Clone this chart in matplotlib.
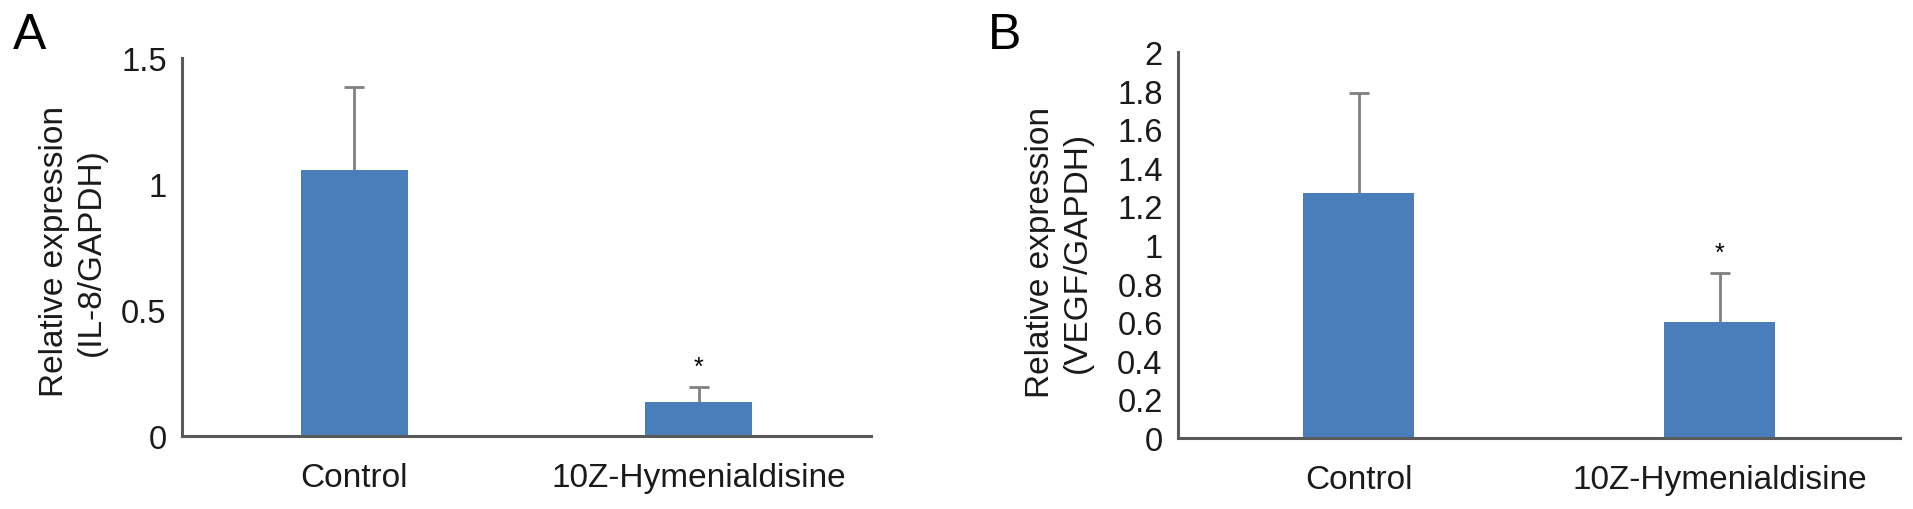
import numpy as np
import matplotlib
matplotlib.use('Agg')
import matplotlib.pyplot as plt

plt.rcParams['font.family'] = ['Liberation Sans', 'DejaVu Sans']

# Data
groups = ['Control', '10Z-Hymenialdisine']

il8_mean = [1.055, 0.135]
il8_err = [0.33, 0.06]

vegf_mean = [1.27, 0.60]
vegf_err = [0.52, 0.255]

il8_ticks = [0, 0.5, 1, 1.5]
il8_ticklabels = ['0', '0.5', '1', '1.5']
vegf_ticks = [0, 0.2, 0.4, 0.6, 0.8, 1.0, 1.2, 1.4, 1.6, 1.8, 2.0]
vegf_ticklabels = ['0', '0.2', '0.4', '0.6', '0.8', '1', '1.2', '1.4', '1.6', '1.8', '2']

bar_color = '#4A7EBB'
axis_color = '#595959'
err_color = '#808080'

fig = plt.figure(figsize=(19.13, 5.10), dpi=100)
axA = fig.add_axes([0.0951, 0.1431, 0.3602, 0.7412])
axB = fig.add_axes([0.6158, 0.1392, 0.3774, 0.7569])


def draw_panel(ax, means, errs, ticks, ticklabels, ymax, ylabel, label_x, label_y):
    x = np.arange(len(groups))
    means = np.array(means)
    errs = np.array(errs)
    ax.bar(x, means, width=0.31, color=bar_color, zorder=2)
    # upper error only, cap only on top
    ax.errorbar(x, means, yerr=[np.zeros(len(errs)), errs], fmt='none',
                ecolor=err_color, elinewidth=2, capsize=0, zorder=3)
    ax.plot(x, means + errs, linestyle='none', marker='_', markersize=15,
            markeredgewidth=2, color=err_color, zorder=3)
    # significance star over the treated group
    ax.annotate('*', xy=(x[1], means[1] + errs[1]), xytext=(0, 6),
                textcoords='offset points', ha='center', va='bottom', fontsize=18)
    ax.set_xlim(-0.5, 1.5)
    ax.set_ylim(0, ymax)
    ax.set_yticks(ticks)
    ax.set_yticklabels(ticklabels)
    ax.set_xticks(x)
    ax.set_xticklabels(groups)
    ax.tick_params(axis='y', length=0, pad=11, labelsize=23.5, colors='#1a1a1a')
    ax.tick_params(axis='x', length=0, pad=19, labelsize=24, colors='#1a1a1a')
    for side in ['top', 'right']:
        ax.spines[side].set_visible(False)
    for side in ['left', 'bottom']:
        ax.spines[side].set_color(axis_color)
        ax.spines[side].set_linewidth(2.2)
    ax.set_ylabel(ylabel, fontsize=24, color='#1a1a1a', linespacing=1.25)
    ax.yaxis.set_label_coords(label_x, label_y)


draw_panel(axA, il8_mean, il8_err, il8_ticks, il8_ticklabels, 1.5,
           'Relative expression\n(IL-8/GAPDH)', -0.109, 0.49)
draw_panel(axB, vegf_mean, vegf_err, vegf_ticks, vegf_ticklabels, 2.0,
           'Relative expression\n(VEGF/GAPDH)', -0.118, 0.484)

fig.text(0.0068, 0.975, 'A', fontsize=36, ha='left', va='top')
fig.text(0.5165, 0.975, 'B', fontsize=36, ha='left', va='top')

fig.savefig('out.png', dpi=100, facecolor='white')
